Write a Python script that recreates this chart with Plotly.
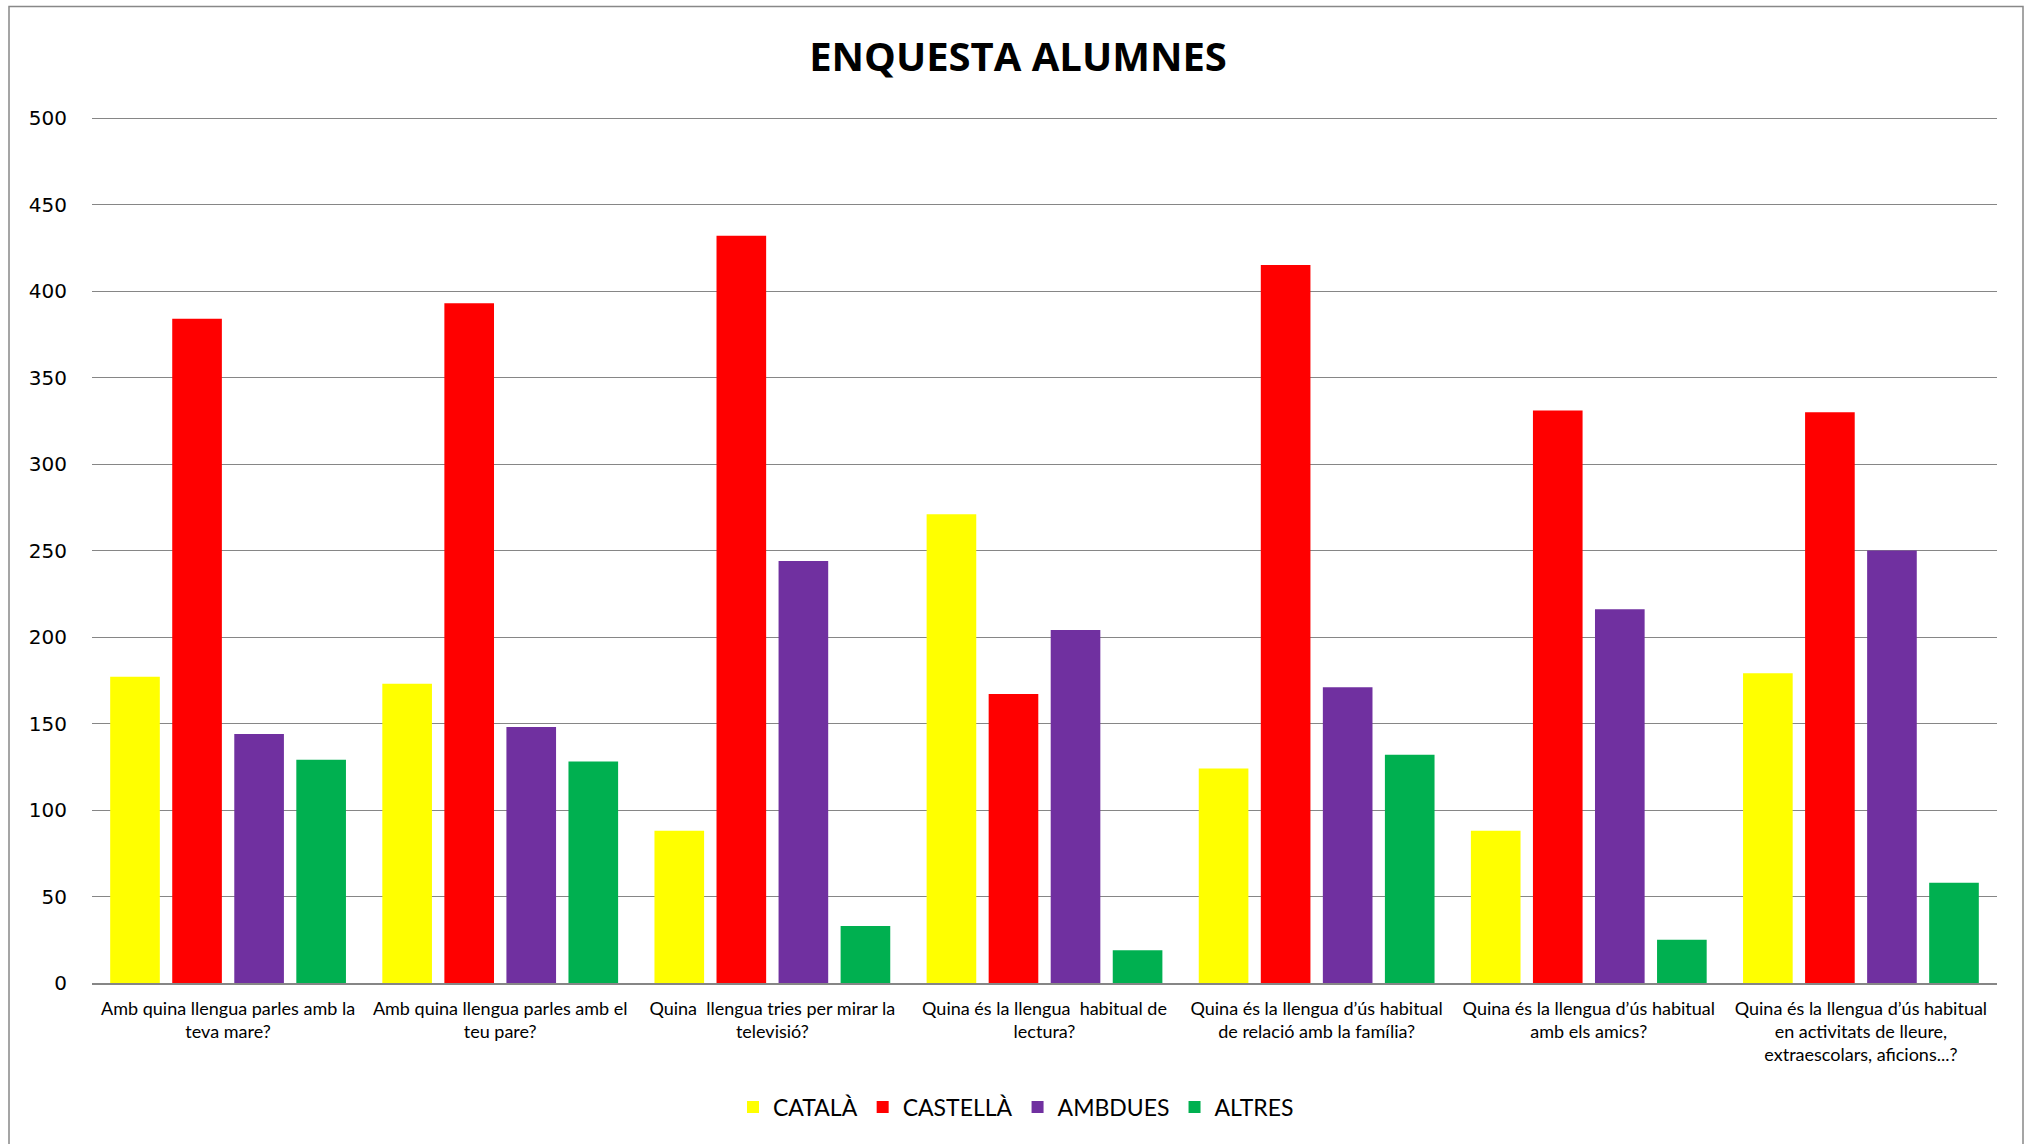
import plotly.graph_objects as go

categories = [
    "Amb quina llengua parles amb la<br>teva mare?",
    "Amb quina llengua parles amb el<br>teu pare?",
    "Quina  llengua tries per mirar la<br>televisió?",
    "Quina és la llengua  habitual de<br>lectura?",
    "Quina és la llengua d’ús habitual<br>de relació amb la família?",
    "Quina és la llengua d’ús habitual<br>amb els amics?",
    "Quina és la llengua d’ús habitual<br>en activitats de lleure,<br>extraescolars, aficions...?",
]
catala = [177, 173, 88, 271, 124, 88, 179]
castella = [384, 393, 432, 167, 415, 331, 330]
ambdues = [144, 148, 244, 204, 171, 216, 250]
altres = [129, 128, 33, 19, 132, 25, 58]

series_names = ["CATALÀ", "CASTELLÀ", "AMBDUES", "ALTRES"]
series_values = [catala, castella, ambdues, altres]
colors = ["#FFFF00", "#FF0000", "#7030A0", "#00B050"]

W, H = 2025, 1144
L, R, T, B = 92, 28, 117, 161
pw, ph = W - L - R, H - T - B

fig = go.Figure()
for name, vals, col in zip(series_names, series_values, colors):
    fig.add_trace(go.Bar(x=categories, y=vals, name=name, marker=dict(color=col, line=dict(width=0))))

fig.update_layout(
    width=W, height=H,
    margin=dict(l=L, r=R, t=T, b=B, autoexpand=False),
    paper_bgcolor="white", plot_bgcolor="white",
    barmode="group", bargap=0.088, bargroupgap=0.2,
    title=dict(text="<b>ENQUESTA ALUMNES</b>", x=1018 / W, xanchor="center",
               y=1 - 57 / H, yanchor="middle", yref="container",
               font=dict(family="Open Sans", size=40, color="black")),
    legend=dict(orientation="h", x=(1016 - L) / pw, xanchor="center",
                y=(H - B - 1107) / ph, yanchor="middle",
                font=dict(family="Lato", size=23, color="black"),
                traceorder="normal", itemwidth=30),
    font=dict(family="Lato", color="black"),
    showlegend=True,
)
fig.update_xaxes(
    type="category", tickangle=0, showgrid=False,
    showline=True, linecolor="#868686", linewidth=2,
    tickfont=dict(family="Lato", size=18, color="black"),
    ticks="", ticklabelstandoff=8,
)
fig.update_yaxes(
    range=[0, 500.6], tick0=0, dtick=50, showgrid=True,
    gridcolor="#868686", gridwidth=1, zeroline=False, showline=False,
    tickfont=dict(family="DejaVu Sans", size=20, color="black"),
    ticks="", ticklabelstandoff=24,
)
# outer chart border
fig.add_shape(type="rect", xref="paper", yref="paper",
              x0=(9 - L) / pw, x1=(2023 - L) / pw,
              y0=(H - B - 1160) / ph, y1=(H - B - 6.5) / ph,
              line=dict(color="#888888", width=1.5), fillcolor="rgba(0,0,0,0)", layer="below")

fig.write_html("out.html", config={"displayModeBar": False},
               post_script="document.body.style.margin='0';")
